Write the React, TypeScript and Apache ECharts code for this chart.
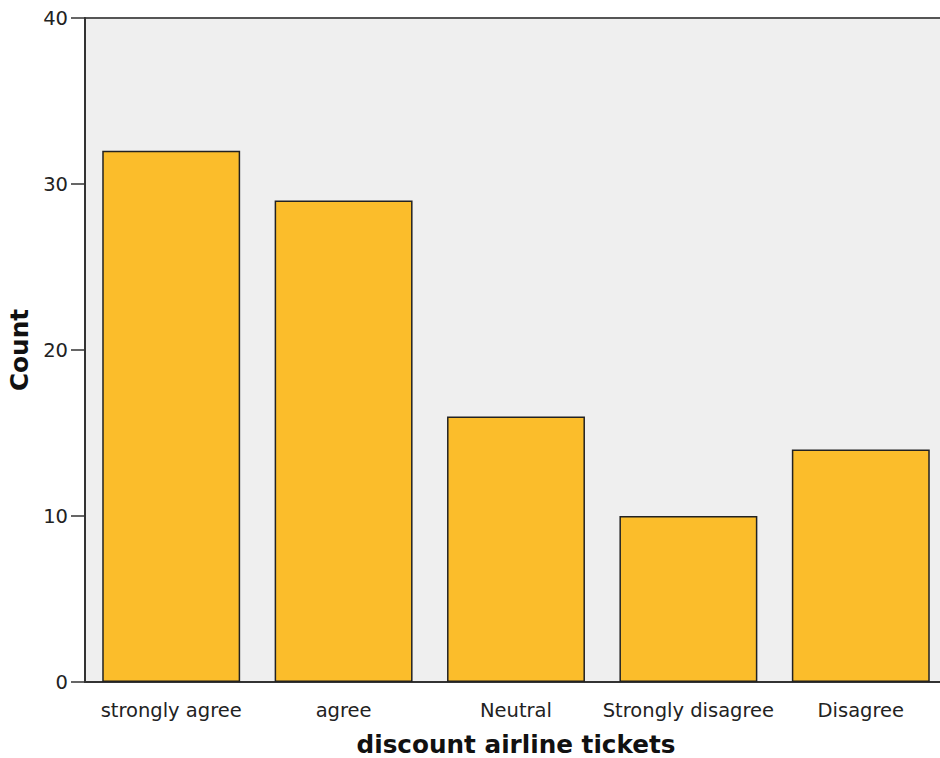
import React, { useEffect, useRef } from "react";
import * as echarts from "echarts";

const categories = ["strongly agree", "agree", "Neutral", "Strongly disagree", "Disagree"];
const counts = [32, 29, 16, 10, 14];
const yTicks = { min: 0, max: 40, interval: 10 };

export default function App() {
  const ref = useRef<HTMLDivElement>(null);
  useEffect(() => {
    document.body.style.margin = "0";
    const chart = echarts.init(ref.current!, null, { renderer: "svg" });
    chart.setOption({
      animation: false,
      backgroundColor: "#ffffff",
      textStyle: { fontFamily: "DejaVu Sans" },
      grid: {
        left: 85,
        top: 18,
        width: 862,
        height: 664,
        outerBoundsMode: "none",
        containLabel: false,
        show: true,
        backgroundColor: "#efefef",
        borderColor: "#555555",
        borderWidth: 2,
      },
      xAxis: {
        type: "category",
        data: categories,
        name: "discount airline tickets",
        nameLocation: "middle",
        nameGap: 50,
        nameTextStyle: { fontSize: 24.7, fontWeight: "bold", color: "#111", fontFamily: "DejaVu Sans" },
        axisLine: { lineStyle: { color: "#333", width: 2 } },
        axisTick: { alignWithLabel: true, length: 13, lineStyle: { color: "#333", width: 1.5 } },
        axisLabel: { fontSize: 19.5, color: "#222", margin: 18, interval: 0 },
      },
      yAxis: {
        type: "value",
        min: yTicks.min,
        max: yTicks.max,
        interval: yTicks.interval,
        name: "Count",
        nameLocation: "middle",
        nameGap: 48,
        nameTextStyle: { fontSize: 24.7, fontWeight: "bold", color: "#111", fontFamily: "DejaVu Sans" },
        axisLine: { show: true, lineStyle: { color: "#333", width: 2 } },
        axisTick: { show: true, length: 14, lineStyle: { color: "#333", width: 1.5 } },
        axisLabel: { fontSize: 19.5, color: "#222", margin: 17 },
        splitLine: { show: false },
      },
      series: [
        {
          type: "bar",
          data: counts,
          barWidth: "80%",
          itemStyle: { color: "#fbbd2b", borderColor: "#222", borderWidth: 1.5 },
        },
      ],
    });
    return () => chart.dispose();
  }, []);
  return <div ref={ref} style={{ width: 940, height: 758 }} />;
}
